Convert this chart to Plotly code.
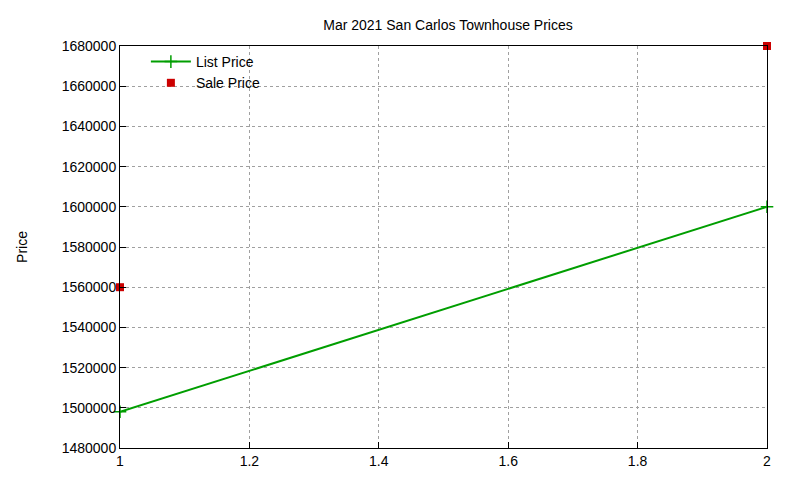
import plotly.graph_objects as go

x_vals = [1, 2]
list_price = [1498000, 1600000]
sale_price = [1560000, 1680000]
x_ticks = [1, 1.2, 1.4, 1.6, 1.8, 2]
y_ticks = list(range(1480000, 1680001, 20000))

fig = go.Figure()
fig.add_trace(go.Scatter(x=x_vals, y=list_price, mode="lines+markers", name="List Price",
                         cliponaxis=False,
                         line=dict(color="#009e00", width=2),
                         marker=dict(symbol="cross-thin", size=9, line=dict(color="#009e00", width=1.5))))
fig.add_trace(go.Scatter(x=x_vals, y=sale_price, mode="markers", name="Sale Price",
                         cliponaxis=False,
                         marker=dict(symbol="square", size=8, color="#cc0000")))

axis_common = dict(showgrid=True, gridcolor="#a0a0a0", griddash="dot", gridwidth=1,
                   showline=True, linecolor="black", linewidth=1, mirror=True,
                   ticks="inside", ticklen=6, tickcolor="black", zeroline=False,
                   tickfont=dict(family="Liberation Sans", size=14, color="black"))
fig.update_xaxes(range=[1, 2], tickvals=x_ticks, ticktext=[str(t) for t in x_ticks], **axis_common)
fig.update_yaxes(range=[1480000, 1680000], tickvals=y_ticks, ticktext=[str(t) for t in y_ticks],
                 title=dict(text="Price", font=dict(family="Liberation Sans", size=14, color="black"), standoff=30),
                 **axis_common)
fig.update_layout(
    width=800, height=480,
    paper_bgcolor="white", plot_bgcolor="white",
    margin=dict(l=112, r=41, t=38, b=40, autoexpand=False),
    title=dict(text="Mar 2021 San Carlos Townhouse Prices", x=0.55, xanchor="center", y=0.975,
               font=dict(family="Liberation Sans", size=14, color="black")),
    font=dict(family="Liberation Sans", size=14, color="black"),
    legend=dict(x=0.04, y=1.0, xanchor="left", yanchor="top", bgcolor="rgba(0,0,0,0)",
                font=dict(size=14), tracegroupgap=0, itemwidth=40),
    showlegend=True,
)
fig.write_html("out.html")
